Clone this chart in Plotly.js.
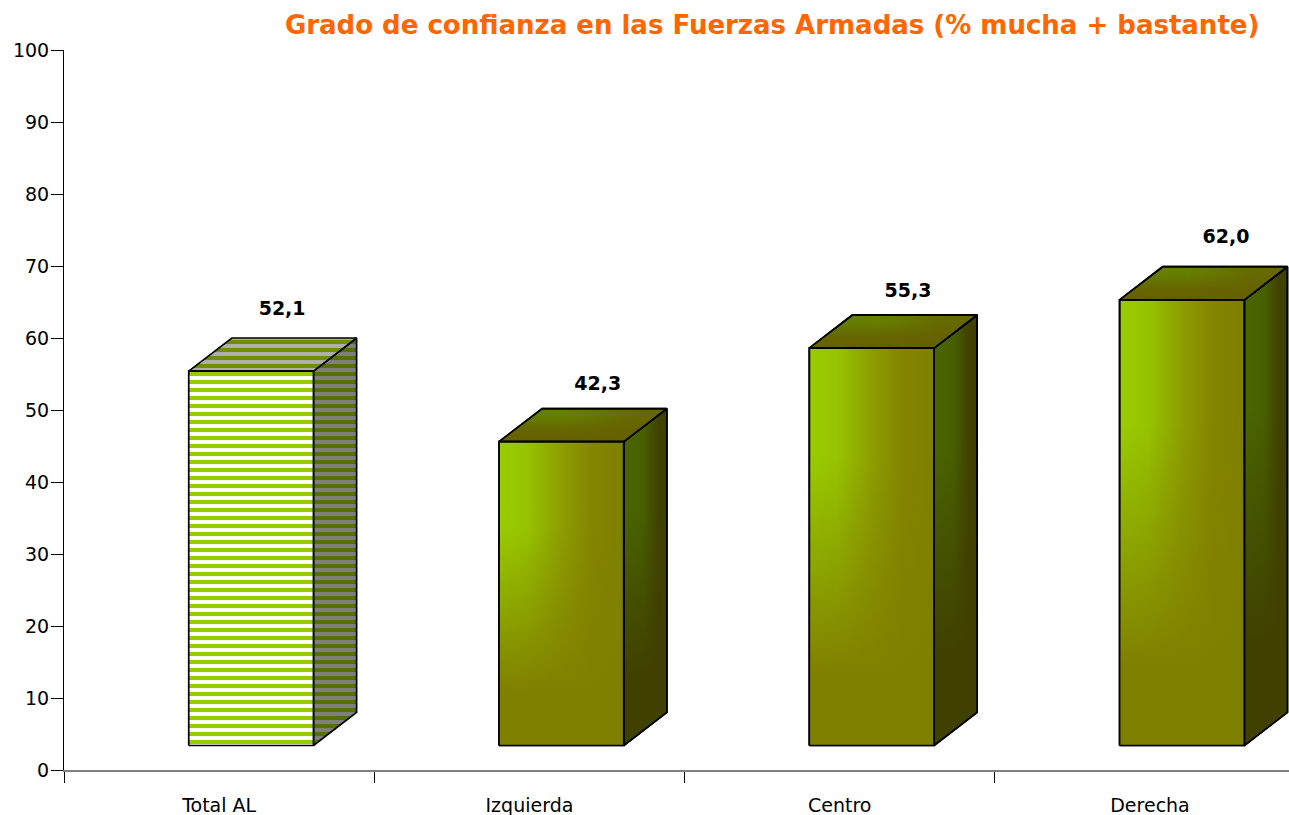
<!DOCTYPE html>
<html>
<head>
<meta charset="utf-8">
<script src="https://cdn.plot.ly/plotly-3.0.1.min.js"></script>
<style>html,body{margin:0;padding:0;background:#fff;overflow:hidden}</style>
</head>
<body>
<div id="chart" style="width:1289px;height:815px"></div>
<script>
const chartTitle = 'Grado de confianza en las Fuerzas Armadas (% mucha + bastante)';
const categories = ['Total AL', 'Izquierda', 'Centro', 'Derecha'];
const confidence = [52.1, 42.3, 55.3, 62.0];
const valueLabels = ['52,1', '42,3', '55,3', '62,0'];
const yTicks = [0, 10, 20, 30, 40, 50, 60, 70, 80, 90, 100];

/* drawing constants of the fake-3D box, in axis units */
const BASE = 3.4, LIFT = 3.3, DEPTH_Y = 4.6, DEPTH_X = 0.139, LEFT = -0.098, RIGHT = 0.304;
const labelDx = [0.203, 0.22, 0.22, 0.245];
const labelDy = [11.7, 11.1, 11.0, 11.8];
const FONT = '"DejaVu Sans", sans-serif';

function face(xs, ys, extra) {
  return Object.assign({
    type: 'scatter', mode: 'lines', x: xs, y: ys, fill: 'toself',
    line: {color: '#000', width: 1.7}, hoverinfo: 'skip', showlegend: false
  }, extra);
}
function grad(type, scale) {
  return {fillgradient: {type: type, colorscale: scale}};
}
function stripes(fg, bg) {
  return {fillcolor: bg, fillpattern: {shape: '-', fgcolor: fg, bgcolor: bg, size: 8, solidity: 0.52, fillmode: 'replace'}};
}
const frontH = [[0, '#99cc00'], [0.22, '#96c400'], [0.5, '#8d9e00'], [0.75, '#838400'], [1, '#808000']];
const frontV = [[0, 'rgba(128,128,0,1)'], [0.18, 'rgba(128,128,0,1)'], [0.72, 'rgba(128,128,0,0)'], [1, 'rgba(128,128,0,0)']];
const sideH = [[0, '#4a6600'], [0.45, '#486000'], [0.8, '#404200'], [1, '#3f3f00']];
const sideV = [[0, 'rgba(64,64,0,1)'], [0.2, 'rgba(64,64,0,1)'], [0.7, 'rgba(64,64,0,0)'], [1, 'rgba(64,64,0,0)']];
const topH = [[0, '#5f7f00'], [0.4, '#668000'], [0.8, '#666a00'], [1, '#666600']];
const topV = [[0, 'rgba(102,96,0,1)'], [0.35, 'rgba(102,96,0,0.8)'], [0.8, 'rgba(102,96,0,0)'], [1, 'rgba(102,96,0,0)']];

const traces = [];
confidence.forEach((v, i) => {
  const l = i + LEFT, r = i + RIGHT, b = BASE, t = v + LIFT;
  const frontX = [l, r, r, l, l], frontY = [b, b, t, t, b];
  const sideX = [r, r + DEPTH_X, r + DEPTH_X, r, r], sideY = [b, b + DEPTH_Y, t + DEPTH_Y, t, b];
  const topX = [l, r, r + DEPTH_X, l + DEPTH_X, l], topY = [t, t, t + DEPTH_Y, t + DEPTH_Y, t];
  if (i === 0) {
    traces.push(face(sideX, sideY, stripes('#557000', '#808080')));
    traces.push(face(topX, topY, stripes('#6f8f00', '#b0b0b0')));
    traces.push(face(frontX, frontY, stripes('#99cc00', '#ffffff')));
  } else {
    traces.push(face(sideX, sideY, grad('horizontal', sideH)));
    traces.push(face(sideX, sideY, grad('vertical', sideV)));
    traces.push(face(topX, topY, grad('horizontal', topH)));
    traces.push(face(topX, topY, grad('vertical', topV)));
    traces.push(face(frontX, frontY, grad('horizontal', frontH)));
    traces.push(face(frontX, frontY, grad('vertical', frontV)));
  }
});
traces.push({
  type: 'scatter', mode: 'text', hoverinfo: 'skip', showlegend: false,
  x: confidence.map((v, i) => i + labelDx[i]),
  y: confidence.map((v, i) => v + labelDy[i]),
  text: valueLabels, textposition: 'middle center', cliponaxis: false,
  textfont: {family: FONT, size: 19, color: '#000', weight: 'bold'}
});

const layout = {
  width: 1289, height: 815, autosize: false,
  margin: {l: 64, r: 0, t: 50, b: 45, pad: 0},
  paper_bgcolor: '#fff', plot_bgcolor: '#fff', showlegend: false,
  title: {text: chartTitle, x: 0.599, xanchor: 'center', y: 0.969, yanchor: 'middle',
          font: {family: FONT, size: 26, color: '#ff6600', weight: 'bold'}},
  xaxis: {
    range: [-0.5, 3.448], fixedrange: true, showgrid: false, zeroline: false,
    tickmode: 'array', tickvals: categories.map((c, i) => i), ticktext: categories,
    ticks: 'outside', ticklen: 17, tickcolor: 'rgba(0,0,0,0)',
    tickfont: {family: FONT, size: 19, color: '#000'},
    showline: true, linecolor: '#808080', linewidth: 1.5,
    minor: {tickmode: 'array', tickvals: [-0.5, 0.5, 1.5, 2.5], ticks: 'outside', ticklen: 11, tickcolor: '#000', tickwidth: 1, showgrid: false}
  },
  yaxis: {
    range: [0, 100], fixedrange: true, showgrid: false, zeroline: false,
    tickmode: 'array', tickvals: yTicks, ticks: 'outside', ticklen: 12, tickcolor: '#000', tickwidth: 1,
    ticklabelstandoff: -2,
    tickfont: {family: FONT, size: 19, color: '#000'},
    showline: true, linecolor: '#000', linewidth: 1
  }
};
Plotly.newPlot('chart', traces, layout, {displayModeBar: false, responsive: false});
</script>
</body>
</html>
